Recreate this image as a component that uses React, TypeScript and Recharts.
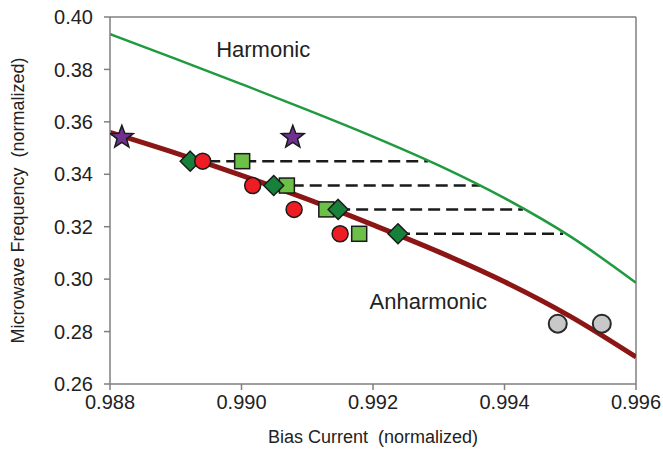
import { ComposedChart, Line, Scatter, XAxis, YAxis, ReferenceLine, ReferenceDot } from 'recharts';

const xTicks = [0.988, 0.99, 0.992, 0.994, 0.996];
const yTicks = [0.26, 0.28, 0.3, 0.32, 0.34, 0.36, 0.38, 0.4];

const curveX = [0.988, 0.989, 0.99, 0.991, 0.992, 0.993, 0.994, 0.995, 0.996];
const harmonicY = [0.3935, 0.384, 0.3744, 0.3646, 0.3544, 0.3434, 0.3309, 0.3163, 0.2986];
const anharmonicY = [0.356, 0.3481, 0.3396, 0.3305, 0.3207, 0.3104, 0.299, 0.2858, 0.2703];

// four measured frequency levels
const levelY = [0.345, 0.3357, 0.3266, 0.3173];
const diamondX = [0.98922, 0.99049, 0.99147, 0.99238];
const circleX = [0.98941, 0.99017, 0.9908, 0.9915];
const squareX = [0.99001, 0.99069, 0.99129, 0.99179];
const dashEndX = [0.99284, 0.99363, 0.99428, 0.99489];

const starX = [0.98818, 0.99078];
const starY = [0.3541, 0.3541];
const grayX = [0.99481, 0.99548];
const grayY = [0.283, 0.283];

const font = "'Liberation Sans', Arial, sans-serif";
const axisGray = '#7f7f7f';

const harmonic = curveX.map((x, i) => ({ x, y: harmonicY[i] }));
const anharmonic = curveX.map((x, i) => ({ x, y: anharmonicY[i] }));
const dashes = levelY.map((y, i) => [
  { x: diamondX[i], y },
  { x: dashEndX[i], y },
]);
const diamonds = levelY.map((y, i) => ({ x: diamondX[i], y }));
const circles = levelY.map((y, i) => ({ x: circleX[i], y }));
const squares = levelY.map((y, i) => ({ x: squareX[i], y }));
const stars = starX.map((x, i) => ({ x, y: starY[i] }));
const grays = grayX.map((x, i) => ({ x, y: grayY[i] }));

const RedDot = ({ cx, cy }: any) => (
  <circle cx={cx} cy={cy} r={8} fill="#ee1d23" stroke="#1a1a1a" strokeWidth={1.5} />
);
const GrayDot = ({ cx, cy }: any) => (
  <circle cx={cx} cy={cy} r={9} fill="#c8c8c8" stroke="#2a2a2a" strokeWidth={2} />
);
const Square = ({ cx, cy }: any) => (
  <rect x={cx - 7.5} y={cy - 7.5} width={15} height={15} fill="#6cbf47" stroke="#1a1a1a" strokeWidth={1.5} />
);
const Diamond = ({ cx, cy }: any) => (
  <polygon
    points={`${cx},${cy - 10} ${cx + 10},${cy} ${cx},${cy + 10} ${cx - 10},${cy}`}
    fill="#17803a"
    stroke="#1a1a1a"
    strokeWidth={1.5}
  />
);
const Star = ({ cx, cy }: any) => {
  const pts: string[] = [];
  for (let k = 0; k < 10; k++) {
    const r = k % 2 === 0 ? 12 : 5;
    const a = -Math.PI / 2 + (k * Math.PI) / 5;
    pts.push(`${cx + r * Math.cos(a)},${cy + r * Math.sin(a)}`);
  }
  return <polygon points={pts.join(' ')} fill="#70308f" stroke="#1a1a1a" strokeWidth={1.5} />;
};

const YTitle = ({ viewBox }: any) => (
  <text
    x={viewBox.x + 18}
    y={viewBox.y + viewBox.height / 2}
    transform={`rotate(-90, ${viewBox.x + 18}, ${viewBox.y + viewBox.height / 2})`}
    textAnchor="middle"
    dominantBaseline="central"
    fontSize={18}
    fontFamily={font}
    fill="#222"
    style={{ whiteSpace: 'pre' }}
  >
    {'Microwave Frequency  (normalized)'}
  </text>
);

const XTitle = ({ viewBox }: any) => (
  <text
    x={viewBox.x + viewBox.width / 2}
    y={viewBox.y + 53}
    textAnchor="middle"
    dominantBaseline="central"
    fontSize={18}
    fontFamily={font}
    fill="#222"
    style={{ whiteSpace: 'pre' }}
  >
    {'Bias Current  (normalized)'}
  </text>
);

export default function App() {
  return (
    <div style={{ position: 'absolute', left: 0, top: 0, background: '#fff' }}>
      <ComposedChart width={663} height={461} margin={{ top: 17, right: 27, bottom: 0, left: 0 }}>
        <XAxis
          type="number"
          dataKey="x"
          domain={[0.988, 0.996]}
          ticks={xTicks}
          allowDataOverflow
          tickFormatter={(v: number) => v.toFixed(3)}
          tick={{ fill: '#222', fontSize: 20, fontFamily: font }}
          tickSize={6}
          tickMargin={5}
          axisLine={{ stroke: axisGray, strokeWidth: 1.5 }}
          tickLine={{ stroke: axisGray, strokeWidth: 1.5 }}
          height={77}
          label={<XTitle />}
        />
        <YAxis
          type="number"
          dataKey="y"
          domain={[0.26, 0.4]}
          ticks={yTicks}
          allowDataOverflow
          tickFormatter={(v: number) => v.toFixed(2)}
          tick={{ fill: '#222', fontSize: 20, fontFamily: font }}
          tickSize={6}
          tickMargin={11}
          axisLine={{ stroke: axisGray, strokeWidth: 1.5 }}
          tickLine={{ stroke: axisGray, strokeWidth: 1.5 }}
          width={110}
          label={<YTitle />}
        />
        <ReferenceLine y={0.4} stroke={axisGray} strokeWidth={1.5} />
        <ReferenceLine x={0.996} stroke={axisGray} strokeWidth={1.5} />

        {dashes.map((d, i) => (
          <Line
            key={`dash-${i}`}
            data={d}
            dataKey="y"
            stroke="#1a1a1a"
            strokeWidth={2.5}
            strokeDasharray="12 6"
            dot={false}
            activeDot={false}
            isAnimationActive={false}
          />
        ))}
        <Line
          data={harmonic}
          dataKey="y"
          type="monotone"
          stroke="#1f9a3e"
          strokeWidth={2.5}
          dot={false}
          activeDot={false}
          isAnimationActive={false}
        />
        <Line
          data={anharmonic}
          dataKey="y"
          type="monotone"
          stroke="#8c1515"
          strokeWidth={5}
          dot={false}
          activeDot={false}
          isAnimationActive={false}
        />

        <Scatter data={squares} shape={<Square />} isAnimationActive={false} />
        <Scatter data={diamonds} shape={<Diamond />} isAnimationActive={false} />
        <Scatter data={circles} shape={<RedDot />} isAnimationActive={false} />
        <Scatter data={stars} shape={<Star />} isAnimationActive={false} />
        <Scatter data={grays} shape={<GrayDot />} isAnimationActive={false} />

        <ReferenceDot
          x={0.99033}
          y={0.3878}
          r={0}
          stroke="none"
          label={{ value: 'Harmonic', position: 'center', fontSize: 22, fill: '#222', fontFamily: font }}
        />
        <ReferenceDot
          x={0.99284}
          y={0.2917}
          r={0}
          stroke="none"
          label={{ value: 'Anharmonic', position: 'center', fontSize: 22, fill: '#222', fontFamily: font }}
        />
      </ComposedChart>
    </div>
  );
}
